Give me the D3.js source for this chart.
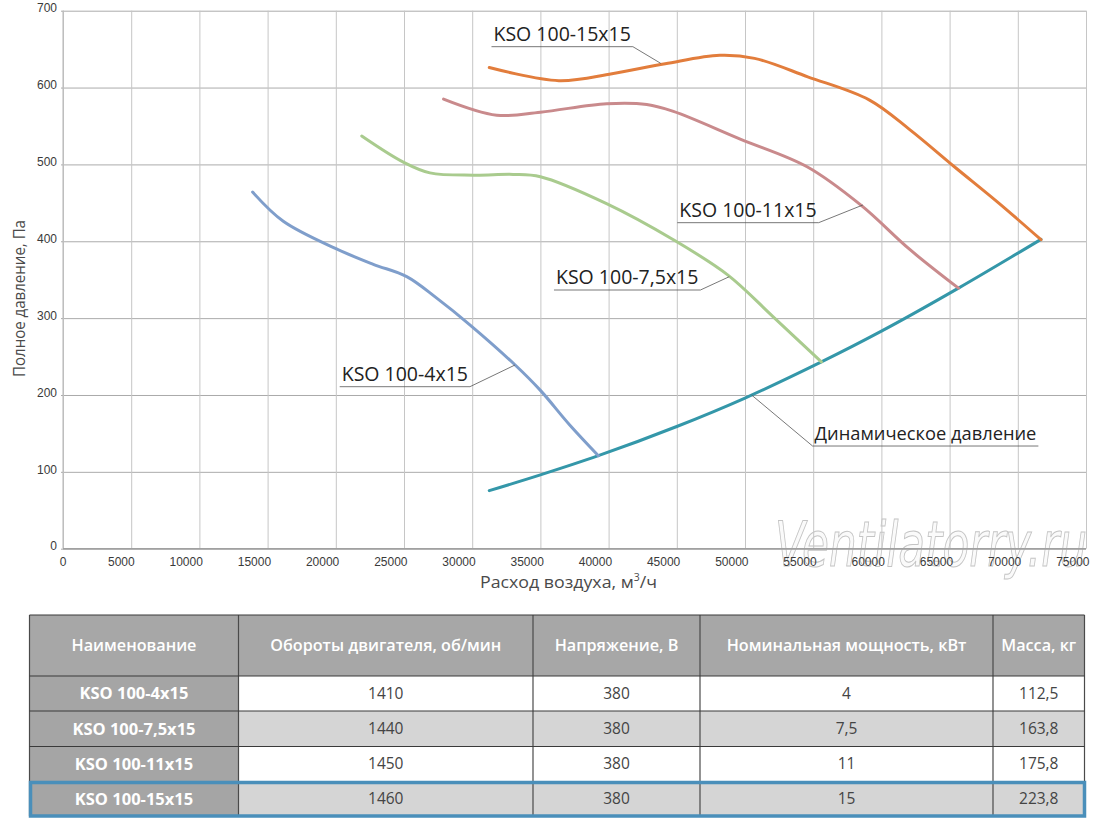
<!DOCTYPE html>
<html>
<head>
<meta charset="utf-8">
<script src="https://cdn.jsdelivr.net/npm/d3@7"></script>
<style>
  body { margin: 0; background: #fff; }
  svg { display: block; font-family: "Open Sans", sans-serif; }
</style>
</head>
<body>
<svg id="chart" width="1100" height="822"></svg>
<script>
// axis ticks
var flowTicks = [ 0, 5000, 10000, 15000, 20000, 25000, 30000, 35000, 40000, 45000, 50000, 55000, 60000, 65000, 70000, 75000 ];
var presTicks = [ 0, 100, 200, 300, 400, 500, 600, 700 ];

// pressure curves, m3/h vs Pa
var flow4 = [ 13900, 16150, 20050, 22750, 25200, 27400, 29850, 33150, 35000, 37150, 39250 ];
var pres4 = [ 464, 426, 390, 370, 354, 326, 291, 239, 206, 161, 121 ];

var flow75 = [ 21900, 24950, 26900, 30100, 33000, 35000, 39850, 44750, 48750, 52050, 55600 ];
var pres75 = [ 537, 503, 489, 486, 487, 484, 449, 402, 356, 302, 243 ];

var flow11 = [ 27900, 31800, 35000, 39850, 42800, 44750, 49650, 54550, 58500, 62100, 65650 ];
var pres11 = [ 585, 564, 568, 579, 578, 569, 533, 497, 447, 389, 339 ];

var flow15 = [ 31250, 36350, 40250, 44150, 48150, 50700, 54600, 59100, 62100, 65350, 68650, 71700 ];
var pres15 = [ 626, 609, 618, 631, 642, 638, 614, 584, 545, 497, 449, 402 ];

var flowDyn = [ 31250, 35000, 39250, 45000, 50000, 55600, 60000, 65650, 71700 ];
var presDyn = [ 75.5, 96, 121, 159, 196, 243, 283, 339, 402.5 ];

// table
var tableHeaders = [ "Наименование", "Обороты двигателя, об/мин", "Напряжение, В", "Номинальная мощность, кВт", "Масса, кг" ];
var models = [ "KSO 100-4x15", "KSO 100-7,5x15", "KSO 100-11x15", "KSO 100-15x15" ];
var rpm = [ "1410", "1440", "1450", "1460" ];
var voltage = [ "380", "380", "380", "380" ];
var power = [ "4", "7,5", "11", "15" ];
var mass = [ "112,5", "163,8", "175,8", "223,8" ];

var svg = d3.select( "#chart" );

var PLOT = { left: 63, right: 1086, top: 10.7, bottom: 548.7 };

var x = d3.scaleLinear().domain( [ 0, 75000 ] ).range( [ PLOT.left, PLOT.right ] );
var y = d3.scaleLinear().domain( [ 0, 700 ] ).range( [ PLOT.bottom, PLOT.top ] );

// watermark behind everything
svg.append( "text" )
  .attr( "x", 775 )
  .attr( "y", 566 )
  .attr( "textLength", 312 )
  .attr( "lengthAdjust", "spacingAndGlyphs" )
  .style( "font-family", "'Liberation Sans Narrow', 'DejaVu Sans Condensed', sans-serif" )
  .style( "font-style", "italic" )
  .style( "font-size", "62px" )
  .style( "fill", "#fafafa" )
  .style( "stroke", "#c4c4c4" )
  .style( "stroke-width", "1px" )
  .text( "Ventilatorry.ru" );

// horizontal grid + y labels
var yAxis = svg.append( "g" )
  .attr( "transform", "translate(" + PLOT.left + ",0)" )
  .call( d3.axisLeft( y ).tickValues( presTicks ).tickSize( -( PLOT.right - PLOT.left ) ).tickPadding( 6 ) );

yAxis.select( ".domain" ).remove();
yAxis.selectAll( ".tick line" )
  .attr( "x1", -2 )
  .style( "stroke", "#ababab" )
  .style( "stroke-width", "1px" );
yAxis.selectAll( ".tick text" )
  .style( "font-size", "12px" )
  .style( "fill", "#3a3a3a" )
  .attr( "dy", "0.1em" )
  .attr( "x", -6 );

// vertical grid + x labels
var xAxis = svg.append( "g" )
  .attr( "transform", "translate(0," + PLOT.bottom + ")" )
  .call( d3.axisBottom( x ).tickValues( flowTicks ).tickFormat( d3.format( "d" ) ).tickSize( -( PLOT.bottom - PLOT.top ) ).tickPadding( 8 ) );

xAxis.select( ".domain" ).remove();
xAxis.selectAll( ".tick line" )
  .style( "stroke", "#c6c6c6" )
  .style( "stroke-width", "1px" );
xAxis.selectAll( ".tick text" )
  .style( "font-size", "12px" )
  .style( "fill", "#3a3a3a" )
  .style( "text-anchor", "end" )
  .attr( "x", 3 )
  .attr( "y", 9 );

// left and bottom axis lines
svg.append( "line" )
  .attr( "x1", PLOT.left ).attr( "y1", PLOT.top )
  .attr( "x2", PLOT.left ).attr( "y2", PLOT.bottom )
  .style( "stroke", "#b5b5b5" );
svg.append( "line" )
  .attr( "x1", PLOT.left ).attr( "y1", PLOT.bottom )
  .attr( "x2", PLOT.right ).attr( "y2", PLOT.bottom )
  .style( "stroke", "#a0a0a0" )
  .style( "stroke-width", "1.5px" );

// axis titles
svg.append( "text" )
  .attr( "x", 480 )
  .attr( "y", 588 )
  .attr( "textLength", 177 )
  .attr( "lengthAdjust", "spacingAndGlyphs" )
  .style( "font-size", "17px" )
  .style( "fill", "#4a4a4a" )
  .html( "Расход воздуха, м<tspan dy='-7' font-size='10px'>3</tspan><tspan dy='7'>/ч</tspan>" );

svg.append( "text" )
  .attr( "transform", "translate(25,377) rotate(-90)" )
  .attr( "textLength", 157 )
  .attr( "lengthAdjust", "spacingAndGlyphs" )
  .style( "font-size", "16.5px" )
  .style( "fill", "#4a4a4a" )
  .text( "Полное давление, Па" );

// curves
var series = [
  { flow: flowDyn, pres: presDyn, color: "#3497a9" },
  { flow: flow4, pres: pres4, color: "#7f9ecb" },
  { flow: flow75, pres: pres75, color: "#a9cb8e" },
  { flow: flow11, pres: pres11, color: "#c98a8c" },
  { flow: flow15, pres: pres15, color: "#e27d3c" }
];

var line = d3.line()
  .x( function( d ){ return x( d[ 0 ] ); } )
  .y( function( d ){ return y( d[ 1 ] ); } )
  .curve( d3.curveCatmullRom.alpha( 0.5 ) );

series.forEach( function( s ){
  svg.append( "path" )
    .datum( d3.zip( s.flow, s.pres ) )
    .attr( "d", line )
    .style( "fill", "none" )
    .style( "stroke", s.color )
    .style( "stroke-width", "3px" )
    .style( "stroke-linecap", "round" );
} );

// curve labels with leader lines (text start, target on curve, in data units)
var labels = [
  { text: "KSO 100-15x15", at: [ 31560, 661 ], to: [ 43824, 631.5 ], side: "right", size: 19.5 },
  { text: "KSO 100-11x15", at: [ 45181, 432 ], to: [ 58641, 447.2 ], side: "right", size: 19.5 },
  { text: "KSO 100-7,5x15", at: [ 36142, 344.4 ], to: [ 48846, 353.9 ], side: "right", size: 19.5 },
  { text: "KSO 100-4x15", at: [ 20432, 218.6 ], to: [ 33136, 239 ], side: "right", size: 19.5 },
  { text: "Динамическое давление", at: [ 55100, 141.4 ], to: [ 50480, 200 ], side: "left", size: 18.3 }
];

labels.forEach( function( l ){
  var tx = x( l.at[ 0 ] );
  var ty = y( l.at[ 1 ] );

  var t = svg.append( "text" )
    .attr( "x", tx )
    .attr( "y", ty )
    .style( "font-size", l.size + "px" )
    .style( "fill", "#222" )
    .text( l.text );

  var w = t.node().getComputedTextLength();
  var uy = ty + 6;
  var x1 = tx - 2;
  var x2 = tx + w + 2;

  svg.append( "line" )
    .attr( "x1", x1 ).attr( "y1", uy )
    .attr( "x2", x2 ).attr( "y2", uy )
    .style( "stroke", "#555" )
    .style( "stroke-width", "0.8px" );

  var sx = l.side == "right" ? x2 : x1;

  svg.append( "line" )
    .attr( "x1", sx ).attr( "y1", uy )
    .attr( "x2", x( l.to[ 0 ] ) ).attr( "y2", y( l.to[ 1 ] ) )
    .style( "stroke", "#555" )
    .style( "stroke-width", "0.8px" );
} );

// table
var colEdges = [ 29.5, 238.5, 533, 700, 993, 1084.5 ];
var rowEdges = [ 615, 676, 711, 746.5, 781.5, 816 ];

var rows = models.map( function( m, i ){
  return [ m, rpm[ i ], voltage[ i ], power[ i ], mass[ i ] ];
} );

var table = svg.append( "g" );

// header
tableHeaders.forEach( function( h, c ){
  table.append( "rect" )
    .attr( "x", colEdges[ c ] )
    .attr( "y", rowEdges[ 0 ] )
    .attr( "width", colEdges[ c + 1 ] - colEdges[ c ] )
    .attr( "height", rowEdges[ 1 ] - rowEdges[ 0 ] )
    .style( "fill", "#a7a7a7" );

  table.append( "text" )
    .attr( "x", ( colEdges[ c ] + colEdges[ c + 1 ] ) / 2 )
    .attr( "y", ( rowEdges[ 0 ] + rowEdges[ 1 ] ) / 2 )
    .attr( "dy", "0.35em" )
    .style( "text-anchor", "middle" )
    .style( "font-size", "16.2px" )
    .style( "font-weight", "600" )
    .style( "fill", "#fff" )
    .text( h );
} );

rows.forEach( function( row, r ){
  row.forEach( function( v, c ){
    var fill = c == 0 ? "#a5a5a5" : ( r % 2 == 0 ? "#ffffff" : "#d5d5d5" );

    table.append( "rect" )
      .attr( "x", colEdges[ c ] )
      .attr( "y", rowEdges[ r + 1 ] )
      .attr( "width", colEdges[ c + 1 ] - colEdges[ c ] )
      .attr( "height", rowEdges[ r + 2 ] - rowEdges[ r + 1 ] )
      .style( "fill", fill );

    table.append( "text" )
      .attr( "x", ( colEdges[ c ] + colEdges[ c + 1 ] ) / 2 )
      .attr( "y", ( rowEdges[ r + 1 ] + rowEdges[ r + 2 ] ) / 2 )
      .attr( "dy", "0.35em" )
      .style( "text-anchor", "middle" )
      .style( "font-size", c == 0 ? "16.5px" : "15.5px" )
      .style( "font-weight", c == 0 ? "700" : "400" )
      .style( "fill", c == 0 ? "#fff" : "#444" )
      .text( v );
  } );
} );

// cell borders
colEdges.forEach( function( cx ){
  table.append( "line" )
    .attr( "x1", cx ).attr( "y1", rowEdges[ 0 ] )
    .attr( "x2", cx ).attr( "y2", rowEdges[ rowEdges.length - 1 ] )
    .style( "stroke", "#4a4a4a" )
    .style( "stroke-width", "1.2px" );
} );
rowEdges.forEach( function( ry ){
  table.append( "line" )
    .attr( "x1", colEdges[ 0 ] ).attr( "y1", ry )
    .attr( "x2", colEdges[ colEdges.length - 1 ] ).attr( "y2", ry )
    .style( "stroke", "#3a3a3a" )
    .style( "stroke-width", "1.2px" );
} );

// highlighted last row
table.append( "rect" )
  .attr( "x", colEdges[ 0 ] + 1 )
  .attr( "y", rowEdges[ 4 ] + 1 )
  .attr( "width", colEdges[ 5 ] - colEdges[ 0 ] - 1 )
  .attr( "height", rowEdges[ 5 ] - rowEdges[ 4 ] - 1 )
  .style( "fill", "none" )
  .style( "stroke", "#4a8fba" )
  .style( "stroke-width", "3.5px" );
</script>
</body>
</html>
